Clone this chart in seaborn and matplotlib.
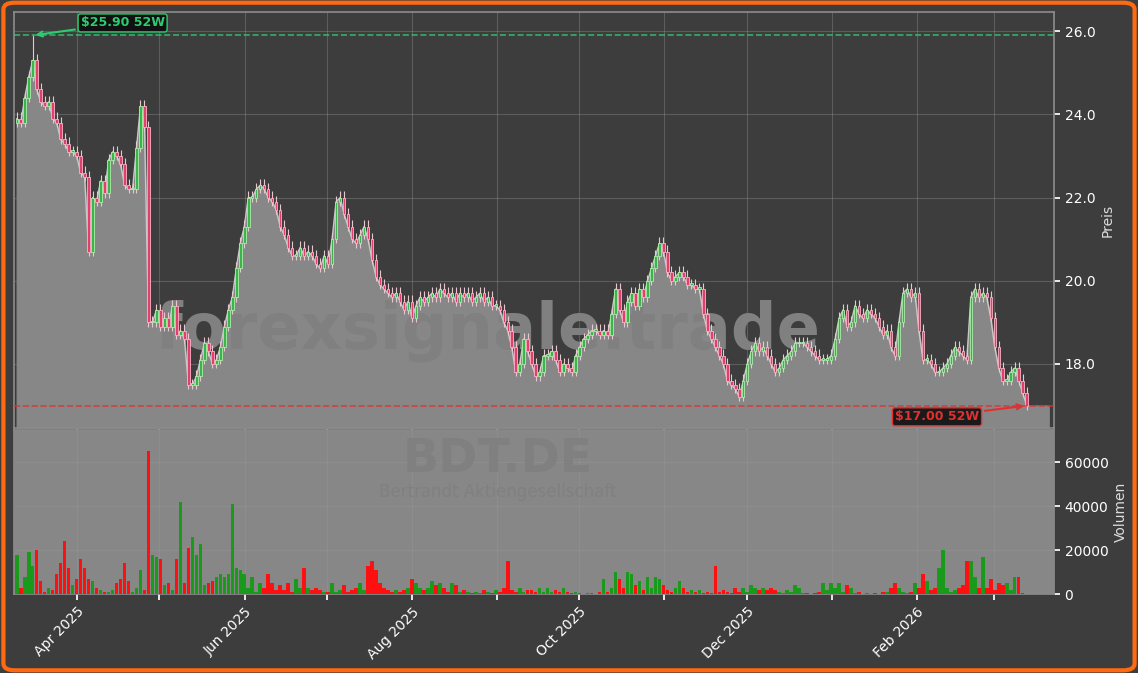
import numpy as np
import pandas as pd
import matplotlib
matplotlib.use("Agg")
import matplotlib.pyplot as plt
import matplotlib.dates as mdates
from matplotlib.patches import FancyBboxPatch, Rectangle
import seaborn as sns

closes = [23.9, 23.8, 24.4, 24.9, 25.3, 24.6, 24.3, 24.2, 24.3, 23.9, 23.8, 23.4, 23.3, 23.1, 23.1, 23.0,
          22.6, 22.5, 20.7, 22.0, 21.9, 22.4, 22.1, 22.9, 23.1, 23.0, 22.8, 22.3, 22.2, 22.2, 23.2, 24.2,
          23.7, 19.0, 19.0, 19.3, 18.9, 19.1, 18.9, 19.4, 18.7, 18.8, 18.6, 17.5, 17.5, 17.7, 18.1, 18.5,
          18.3, 18.0, 18.1, 18.4, 18.9, 19.3, 19.6, 20.3, 20.9, 21.3, 22.0, 22.0, 22.2, 22.3, 22.2, 22.0,
          21.9, 21.7, 21.3, 21.1, 20.8, 20.6, 20.6, 20.8, 20.6, 20.7, 20.6, 20.4, 20.3, 20.6, 20.4, 21.0,
          21.9, 22.0, 21.6, 21.3, 21.0, 20.9, 21.1, 21.3, 21.0, 20.5, 20.1, 19.9, 19.8, 19.7, 19.6, 19.7,
          19.5, 19.3, 19.5, 19.1, 19.4, 19.6, 19.5, 19.6, 19.7, 19.6, 19.8, 19.7, 19.6, 19.7, 19.5, 19.7,
          19.6, 19.7, 19.5, 19.6, 19.7, 19.5, 19.6, 19.4, 19.4, 19.3, 19.0, 18.8, 18.4, 17.8, 18.0, 18.6,
          18.3, 18.0, 17.7, 17.8, 18.2, 18.2, 18.3, 18.1, 17.8, 18.0, 17.9, 17.8, 18.2, 18.4, 18.6, 18.7,
          18.8, 18.8, 18.7, 18.8, 18.7, 19.2, 19.8, 19.3, 19.0, 19.5, 19.7, 19.4, 19.8, 19.6, 20.0, 20.3,
          20.6, 20.9, 20.7, 20.2, 20.0, 20.1, 20.2, 20.1, 19.9, 19.9, 19.8, 19.8, 19.2, 18.8, 18.6, 18.4,
          18.2, 18.0, 17.6, 17.5, 17.4, 17.2, 17.6, 18.0, 18.3, 18.5, 18.3, 18.4, 18.2, 18.0, 17.8, 17.9,
          18.1, 18.2, 18.3, 18.5, 18.5, 18.5, 18.4, 18.3, 18.2, 18.1, 18.1, 18.1, 18.2, 18.6, 19.1, 19.3,
          18.9, 19.0, 19.4, 19.2, 19.1, 19.3, 19.2, 19.1, 18.9, 18.7, 18.8, 18.4, 18.2, 19.0, 19.7, 19.8,
          19.6, 19.7, 18.8, 18.1, 18.1, 18.0, 17.8, 17.8, 17.9, 18.0, 18.2, 18.4, 18.3, 18.2, 18.1, 19.6,
          19.8, 19.6, 19.7, 19.6, 19.1, 18.4, 17.9, 17.6, 17.6, 17.8, 17.9, 17.6, 17.3, 17.0]

volumes = [18000, 3000, 8000, 19000, 13000, 20000, 6000, 1000, 3000, 2000, 9000, 14000, 24000, 12000, 4000, 7000,
           16000, 12000, 7000, 6000, 3000, 2000, 1000, 1000, 2000, 5000, 7000, 14000, 6000, 1000, 3000, 11000,
           2000, 65000, 18000, 17000, 16000, 4000, 5000, 2000, 16000, 42000, 5000, 21000, 26000, 18000, 23000, 4000,
           5000, 6000, 8000, 9000, 8000, 9000, 41000, 12000, 11000, 9000, 3000, 8000, 1000, 5000, 3000, 9000,
           5000, 2000, 4000, 2000, 5000, 1000, 7000, 3000, 12000, 3000, 2000, 3000, 2000, 1000, 1000, 5000,
           1000, 2000, 4000, 1000, 2000, 3000, 5000, 2000, 13000, 15000, 11000, 5000, 3000, 2000, 1000, 2000,
           1000, 2000, 3000, 7000, 5000, 3000, 2000, 3000, 6000, 4000, 5000, 3000, 1000, 5000, 4000, 1000,
           2000, 1000, 500, 1000, 500, 2000, 1000, 500, 2000, 1000, 3000, 15000, 2000, 1000, 3000, 1000,
           2000, 2000, 1000, 3000, 1000, 3000, 1000, 2000, 1000, 3000, 1000, 500, 1000, 500, 300, 500,
           500, 300, 1000, 7000, 1000, 3000, 10000, 7000, 3000, 10000, 9000, 4000, 6000, 2000, 8000, 3000,
           8000, 7000, 4000, 2000, 1000, 3000, 6000, 3000, 1000, 2000, 1000, 2000, 500, 1000, 500, 13000,
           1000, 2000, 1000, 500, 3000, 1000, 3000, 1000, 4000, 3000, 2000, 3000, 2000, 3000, 2000, 1000,
           500, 2000, 1000, 4000, 3000, 500, 500, 300, 500, 1000, 5000, 2000, 5000, 3000, 5000, 1000,
           4000, 3000, 500, 1000, 300, 500, 300, 500, 300, 1000, 1000, 3000, 5000, 3000, 1000, 500,
           1000, 5000, 3000, 9000, 6000, 2000, 3000, 12000, 20000, 3000, 1000, 2000, 3000, 4000, 15000, 15000,
           8000, 3000, 17000, 3000, 7000, 2000, 5000, 4000, 5000, 2000, 8000, 8000, 500, 300]

high_52w = 25.9
low_52w = 17.0
price_ticks = [18, 20, 22, 24, 26]
vol_ticks = [0, 20000, 40000, 60000]

n = min(len(closes), len(volumes))
closes = np.array(closes[:n])
volumes = np.array(volumes[:n])
dates = pd.date_range("2025-03-10", "2026-03-13", periods=n)
opens = np.concatenate([[closes[0] - 0.1], closes[:-1]])
highs = np.maximum(opens, closes) + 0.15
highs[4] = high_52w
lows = np.minimum(opens, closes) - 0.1
up = closes >= opens

df = pd.DataFrame({"date": dates, "close": closes})

sns.set_theme(style="dark")
plt.rcParams["font.family"] = ["DejaVu Sans"]
BG = "#3d3d3d"
fig = plt.figure(figsize=(11.38, 6.73), dpi=100, facecolor=BG)
fig.patches.append(FancyBboxPatch((0.003, 0.004), 0.994, 0.992, boxstyle="round,pad=0,rounding_size=0.01",
                                  transform=fig.transFigure, facecolor="none", edgecolor="#ff6a10", lw=3))

axp = fig.add_axes([0.0123, 0.364, 0.914, 0.618])
axv = fig.add_axes([0.0123, 0.117, 0.914, 0.244], sharex=axp)
axp.set_facecolor(BG)
axv.set_facecolor("#878787")

fill_x = list(dates) + [pd.Timestamp("2026-03-21")]
fill_y = list(closes) + [closes[-1]]
axp.fill_between(fill_x, fill_y, 16.46, color="#878787", zorder=1)
sns.lineplot(data=df, x="date", y="close", ax=axp, color="#c8c8c8", lw=1, zorder=2)

w = 0.9
for d, o, c, h, l, u in zip(dates, opens, closes, highs, lows, up):
    x = mdates.date2num(d)
    axp.vlines(x, l, h, color="#e8c8d0", lw=0.8, zorder=3)
    fc = "#3cb44b" if u else "#e0406e"
    ec = "#a8f0a8" if u else "#ffb0c4"
    b0, b1 = min(o, c), max(o, c)
    axp.add_patch(Rectangle((x - w / 2, b0), w, max(b1 - b0, 0.04), facecolor=fc, edgecolor=ec, lw=0.6, zorder=4))

axp.axhline(high_52w, color="#2ecc71", ls="--", lw=1.2, alpha=0.8, zorder=5)
axp.axhline(low_52w, color="#e03030", ls="--", lw=1.2, alpha=0.8, zorder=5)
axp.annotate(f"${high_52w:.2f} 52W", xy=(dates[4], high_52w), xytext=(dates[16], 26.2),
             color="#2ecc71", fontsize=9, fontweight="bold", va="center",
             bbox=dict(boxstyle="round,pad=0.2", fc="#111111", ec="#2ecc71"),
             arrowprops=dict(arrowstyle="->", color="#2ecc71", lw=1.5), zorder=6)
axp.annotate(f"${low_52w:.2f} 52W", xy=(dates[-1], low_52w), xytext=(dates[220], 16.73),
             color="#e03030", fontsize=9, fontweight="bold", va="center",
             bbox=dict(boxstyle="round,pad=0.2", fc="#1a1a1a", ec="#e03030"),
             arrowprops=dict(arrowstyle="->", color="#e03030", lw=1.5), zorder=6)

axp.text(0.455, 0.235, "forexsignale.trade", transform=axp.transAxes, fontsize=46, fontweight="bold",
         color="#808080", ha="center", va="center", zorder=1.5)
axv.text(0.465, 0.82, "BDT.DE", transform=axv.transAxes, fontsize=34, fontweight="bold",
         color="#808080", ha="center", va="center")
axv.text(0.465, 0.62, "Bertrandt Aktiengesellschaft", transform=axv.transAxes, fontsize=12,
         color="#808080", ha="center", va="center")

vc = np.where(up, "#1a9a1a", "#ff1010")
axv.bar(dates, volumes, width=1.3, color=vc, linewidth=0, zorder=3)

axp.set_xlim(pd.Timestamp("2025-03-09"), pd.Timestamp("2026-03-23"))
axp.set_ylim(16.46, 26.46)
axv.set_ylim(0, 74500)

for ax in (axp, axv):
    ax.yaxis.tick_right()
    ax.yaxis.set_label_position("right")
    ax.grid(True, color="#9a9a9a", alpha=0.35, lw=0.8)
    ax.tick_params(colors="white", labelsize=10, length=4, right=True, bottom=True)
    for s in ax.spines.values():
        s.set_color("#8a8a8a")
    ax.set_xlabel("")
axp.set_yticks(price_ticks)
axp.set_yticklabels([f"{t:.1f}" for t in price_ticks])
axv.set_yticks(vol_ticks)
axp.set_ylabel("Preis", color="#dddddd", fontsize=10)
axv.set_ylabel("Volumen", color="#dddddd", fontsize=10)

axv.xaxis.set_major_locator(mdates.MonthLocator())
axv.xaxis.set_major_formatter(plt.FuncFormatter(
    lambda v, p: mdates.num2date(v).strftime("%b %Y") if mdates.num2date(v).month % 2 == 0 else ""))
plt.setp(axp.get_xticklabels(), visible=False)
plt.setp(axv.get_xticklabels(), rotation=45, ha="right", rotation_mode="anchor")

fig.savefig("out.png", dpi=100, facecolor=BG)
